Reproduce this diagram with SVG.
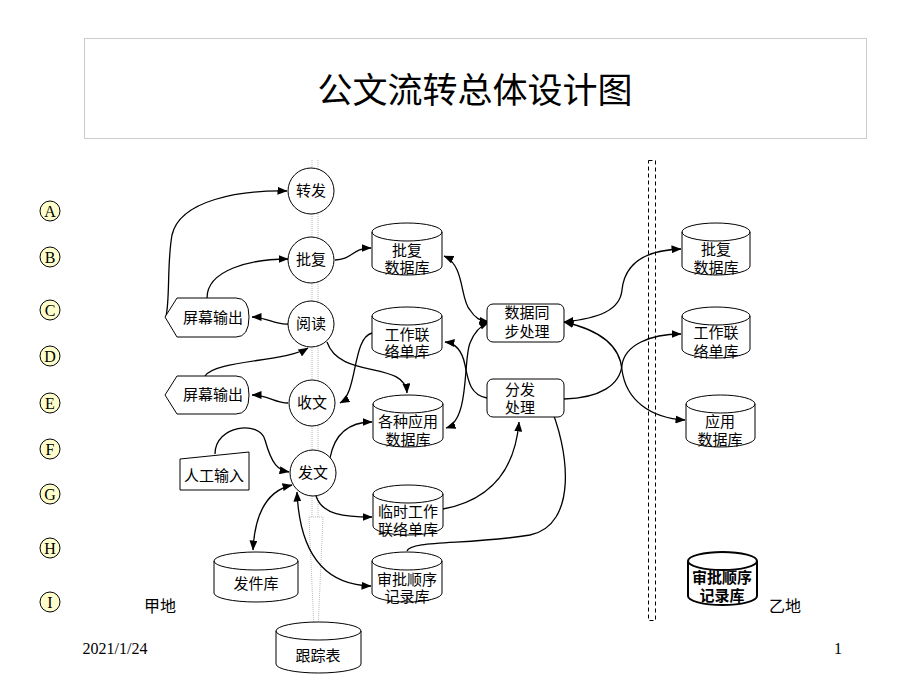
<svg xmlns="http://www.w3.org/2000/svg" width="920" height="690" viewBox="0 0 920 690">
<style>
text{font-family:"Liberation Serif","Noto Sans CJK SC",serif;fill:#000;text-anchor:middle}
.n{font-size:15px}
.shape{fill:#fff;stroke:#000;stroke-width:1}
.lbl{fill:#ffffcc;stroke:#000;stroke-width:1}
.lt{font-size:16px}
.c{fill:none;stroke:#000;stroke-width:1.3}
</style>
<defs>
<marker id="ah" viewBox="0 0 10 8" refX="9.5" refY="4" markerWidth="10" markerHeight="8" markerUnits="userSpaceOnUse" orient="auto-start-reverse">
<path d="M0,0 L10,4 L0,8 Z" fill="#000"/>
</marker>
</defs>
<rect width="920" height="690" fill="#fff"/>
<g id="title">
<rect x="84.5" y="38.5" width="782" height="100" fill="none" stroke="#999" stroke-width="1" stroke-dasharray="1,1"/>
<text x="475" y="103" style="font-size:35px">公文流转总体设计图</text>
</g>
<g id="dividers">
<path d="M312,160 V517 M318,160 V517 M309,517 L314,630 M323,517 L318,630 M309,517 H323" fill="none" stroke="#bbb" stroke-width="1" stroke-dasharray="1,1"/>
<rect x="648.5" y="160.5" width="7" height="460" fill="none" stroke="#000" stroke-width="1" stroke-dasharray="4,3"/>
</g>
<g id="row-labels">
<circle class="lbl" cx="50" cy="211" r="10"/><text class="lt" x="50" y="216.5">A</text>
<circle class="lbl" cx="50" cy="257" r="10"/><text class="lt" x="50" y="262.5">B</text>
<circle class="lbl" cx="50" cy="310" r="10"/><text class="lt" x="50" y="315.5">C</text>
<circle class="lbl" cx="50" cy="356" r="10"/><text class="lt" x="50" y="361.5">D</text>
<circle class="lbl" cx="50" cy="403" r="10"/><text class="lt" x="50" y="408.5">E</text>
<circle class="lbl" cx="50" cy="449" r="10"/><text class="lt" x="50" y="454.5">F</text>
<circle class="lbl" cx="50" cy="494" r="10"/><text class="lt" x="50" y="499.5">G</text>
<circle class="lbl" cx="50" cy="548" r="10"/><text class="lt" x="50" y="553.5">H</text>
<circle class="lbl" cx="50" cy="602" r="10"/><text class="lt" x="50" y="607.5">I</text>
</g>
<g id="connectors">
<path class="c" marker-end="url(#ah)" d="M166,316 C170,300 167,262 172,235 C180,200 240,190 287,191"/>
<path class="c" marker-end="url(#ah)" d="M207,298 C207,270 250,259 288,259"/>
<path class="c" marker-end="url(#ah)" d="M288,324 C275,325 266,317 252,317"/>
<path class="c" marker-end="url(#ah)" d="M335,260 C352,260 352,248 371,248"/>
<path class="c" marker-end="url(#ah)" d="M205,376 C215,360 285,362 308,348"/>
<path class="c" marker-end="url(#ah)" d="M288,403 C275,403 268,395 252,395"/>
<path class="c" marker-end="url(#ah)" d="M372,333 C352,338 358,393 340,403"/>
<path class="c" marker-end="url(#ah)" d="M327,342 C340,380 405,360 407,393"/>
<path class="c" marker-end="url(#ah)" d="M215,454 C215,425 260,420 265,440 C272,465 278,470 289,472"/>
<path class="c" marker-end="url(#ah)" d="M330,458 C335,432 350,422 372,422"/>
<path class="c" marker-end="url(#ah)" d="M316,496 C322,515 345,517 372,517"/>
<path class="c" marker-start="url(#ah)" marker-end="url(#ah)" d="M253,550 C255,510 270,490 292,485"/>
<path class="c" marker-start="url(#ah)" marker-end="url(#ah)" d="M297,492 C300,560 330,585 371,586"/>
<path class="c" marker-start="url(#ah)" marker-end="url(#ah)" d="M444,256 C465,265 460,300 470,310 C475,318 480,321 489,322"/>
<path class="c" marker-start="url(#ah)" marker-end="url(#ah)" d="M446,428 C470,420 463,360 470,343 C475,330 482,325 489,322"/>
<path class="c" marker-end="url(#ah)" d="M487,398 C470,395 468,380 465,365 C462,350 455,343 445,342"/>
<path class="c" marker-end="url(#ah)" d="M443,509 C490,500 515,470 519,422"/>
<path class="c" marker-end="url(#ah)" d="M407,551 C410,540 470,545 530,535 C578,525 570,450 548,401"/>
<path class="c" marker-start="url(#ah)" marker-end="url(#ah)" d="M564,322 C600,318 620,310 622,290 C625,260 650,250 681,249"/>
<path class="c" marker-start="url(#ah)" marker-end="url(#ah)" d="M564,322 C600,330 620,345 622,370 C626,400 650,418 685,420"/>
<path class="c" marker-end="url(#ah)" d="M564,399 C600,398 620,385 622,365 C625,345 650,334 681,334"/>
</g>
<g id="zhuanfa"><circle class="shape" cx="311" cy="191" r="23"/><text class="n" x="311" y="196">转发</text></g>
<g id="pifu"><circle class="shape" cx="311" cy="260" r="23"/><text class="n" x="311" y="265">批复</text></g>
<g id="yuedu"><circle class="shape" cx="311" cy="324" r="23"/><text class="n" x="311" y="329">阅读</text></g>
<g id="shouwen"><circle class="shape" cx="312" cy="403" r="23"/><text class="n" x="312" y="408">收文</text></g>
<g id="fawen"><circle class="shape" cx="313" cy="473" r="23"/><text class="n" x="313" y="478">发文</text></g>
<g id="screen1"><path class="shape" d="M165,317 L177,298 H236 Q249,298 249,317 Q249,337 236,337 H177 Z"/><text class="n" x="213" y="323">屏幕输出</text></g>
<g id="screen2"><path class="shape" d="M165,395 L177,376 H236 Q249,376 249,395 Q249,414 236,414 H177 Z"/><text class="n" x="213" y="400">屏幕输出</text></g>
<g id="manual"><path class="shape" d="M180,459 L249,452 V490 H180 Z"/><text class="n" x="214" y="481">人工输入</text></g>
<g id="db-pifu-a"><path class="shape" d="M372,232 A35,9 0 0 1 442,232 V266 A35,9 0 0 1 372,266 Z M372,232 A35,9 0 0 0 442,232"/><text class="n" x="407" y="256">批复</text><text class="n" x="407" y="273">数据库</text></g>
<g id="db-gzl-a"><path class="shape" d="M372,316 A35,9 0 0 1 442,316 V348 A35,9 0 0 1 372,348 Z M372,316 A35,9 0 0 0 442,316"/><text class="n" x="407" y="340">工作联</text><text class="n" x="407" y="357">络单库</text></g>
<g id="db-gzyy"><path class="shape" d="M373,404 A35,9 0 0 1 443,404 V438 A35,9 0 0 1 373,438 Z M373,404 A35,9 0 0 0 443,404"/><text class="n" x="408" y="427">各种应用</text><text class="n" x="408" y="445">数据库</text></g>
<g id="db-lsgz"><path class="shape" d="M373,494 A35,9 0 0 1 443,494 V526 A35,9 0 0 1 373,526 Z M373,494 A35,9 0 0 0 443,494"/><text class="n" x="408" y="517">临时工作</text><text class="n" x="408" y="535">联络单库</text></g>
<g id="db-spsx-a"><path class="shape" d="M372,561 A35,9 0 0 1 442,561 V593 A35,9 0 0 1 372,593 Z M372,561 A35,9 0 0 0 442,561"/><text class="n" x="407" y="585">审批顺序</text><text class="n" x="407" y="602">记录库</text></g>
<g id="db-fajian"><path class="shape" d="M214,561 A42,9 0 0 1 298,561 V593 A42,9 0 0 1 214,593 Z M214,561 A42,9 0 0 0 298,561"/><text class="n" x="256" y="589">发件库</text></g>
<g id="db-genzong"><path class="shape" d="M276,631 A42.5,9 0 0 1 361,631 V664 A42.5,9 0 0 1 276,664 Z M276,631 A42.5,9 0 0 0 361,631"/><text class="n" x="318" y="661">跟踪表</text></g>
<g id="sync"><rect class="shape" x="487" y="304" width="77" height="38" rx="6"/><text class="n" x="527" y="318">数据同</text><text class="n" x="527" y="337">步处理</text></g>
<g id="dispatch"><rect class="shape" x="487" y="379" width="77" height="38" rx="6"/><text class="n" x="520" y="395">分发</text><text class="n" x="520" y="413">处理</text></g>
<g id="db-pifu-b"><path class="shape" d="M682,232 A34,9 0 0 1 750,232 V266 A34,9 0 0 1 682,266 Z M682,232 A34,9 0 0 0 750,232"/><text class="n" x="716" y="255">批复</text><text class="n" x="716" y="273">数据库</text></g>
<g id="db-gzl-b"><path class="shape" d="M682,316 A34,9 0 0 1 750,316 V349 A34,9 0 0 1 682,349 Z M682,316 A34,9 0 0 0 750,316"/><text class="n" x="716" y="338">工作联</text><text class="n" x="716" y="357">络单库</text></g>
<g id="db-yy-b"><path class="shape" d="M686,404 A34.5,9 0 0 1 755,404 V438 A34.5,9 0 0 1 686,438 Z M686,404 A34.5,9 0 0 0 755,404"/><text class="n" x="720" y="427">应用</text><text class="n" x="720" y="445">数据库</text></g>
<g id="db-spsx-b"><path class="shape" style="stroke-width:2" d="M688,561 A34.5,9 0 0 1 757,561 V596 A34.5,9 0 0 1 688,596 Z M688,561 A34.5,9 0 0 0 757,561"/><text class="n" x="722" y="583" style="font-weight:bold">审批顺序</text><text class="n" x="722" y="601" style="font-weight:bold">记录库</text></g>
<g id="places">
<text x="160" y="612" style="font-size:16px">甲地</text>
<text x="785" y="612" style="font-size:16px">乙地</text>
</g>
<g id="footer">
<text x="115" y="654" style="font-size:16px">2021/1/24</text>
<text x="838" y="654" style="font-size:16px">1</text>
</g>
</svg>
